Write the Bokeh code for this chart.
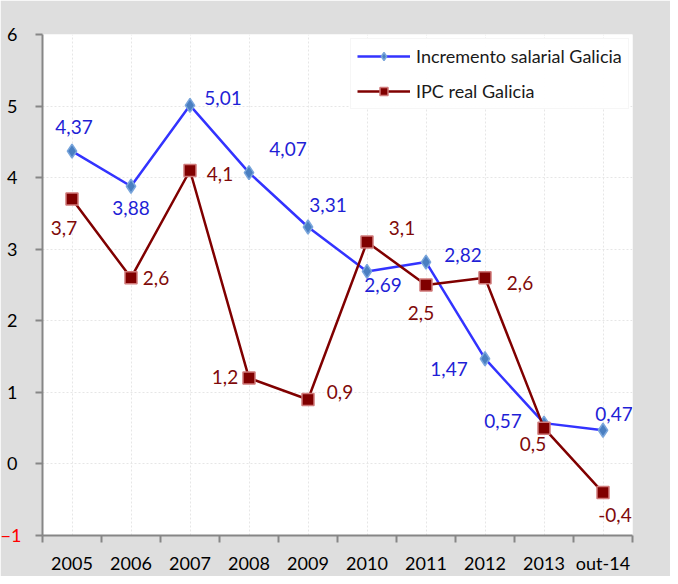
from bokeh.plotting import figure
from bokeh.models import (ColumnDataSource, FixedTicker, Range1d, Legend, LegendItem, LinearAxis)
from bokeh.core.properties import value
from bokeh.embed import file_html
from bokeh.resources import INLINE

categories = ["2005", "2006", "2007", "2008", "2009", "2010", "2011", "2012", "2013", "out-14"]
salarial = [4.37, 3.88, 5.01, 4.07, 3.31, 2.69, 2.82, 1.47, 0.57, 0.47]
ipc = [3.7, 2.6, 4.1, 1.2, 0.9, 3.1, 2.5, 2.6, 0.5, -0.4]
y_ticks = [-1, 0, 1, 2, 3, 4, 5, 6]

# label placement (pixel offsets of label centre relative to the point)
sal_dx = [2, 0, 33, 39, 20, 16, 37, -36, -41, 11]
sal_dy = [-24, 22, -7, -24, -22, 14, -7, 10, -2, -16]
ipc_dx = [-8, 25, 30, -24, 32, 35, -5, 35, -11, 12]
ipc_dy = [29, 0, 4, -1, -8, -14, 28, 5, 16, 22]

FONT = "Lato"
n = len(categories)
xs = [i + 0.5 for i in range(n)]

def fmt(v):
    return str(v).replace(".", ",")

src_sal = ColumnDataSource(dict(x=xs, y=salarial, lab=[fmt(v) for v in salarial], dx=sal_dx, dy=sal_dy))
src_ipc = ColumnDataSource(dict(x=xs, y=ipc, lab=[fmt(v) for v in ipc], dx=ipc_dx, dy=ipc_dy))

W, H = 670, 576
BL, BR, BT, BB = 42, 38, 34, 41
p = figure(width=W, height=H, output_backend="svg", toolbar_location=None,
           x_range=Range1d(0, n), y_range=Range1d(-1, 6),
           min_border_left=BL, min_border_right=BR, min_border_top=BT, min_border_bottom=BB)
p.background_fill_color = "white"
p.border_fill_color = "#dedede"
p.outline_line_color = None

# axes
xa = p.xaxis[0]
xa.ticker = FixedTicker(ticks=xs, minor_ticks=list(range(n + 1)))
xa.major_label_overrides = {x: c for x, c in zip(xs, categories)}
xa.major_tick_out = 0
xa.major_tick_in = 0
xa.minor_tick_out = 7
xa.minor_tick_in = 0
xa.minor_tick_line_color = "#868686"
xa.minor_tick_line_width = 2
xa.axis_line_color = "#868686"
xa.axis_line_width = 2
xa.major_label_standoff = 9
xa.major_label_text_font = FONT
xa.major_label_text_font_style = "normal"
xa.major_label_text_font_size = "18px"
xa.major_label_text_color = "black"

ya = p.yaxis[0]
ya.ticker = FixedTicker(ticks=y_ticks)
ya.major_label_overrides = {y_ticks[0]: ""}
ya.major_tick_out = 7
ya.major_tick_in = 0
ya.minor_tick_out = 0
ya.minor_tick_in = 0
ya.major_tick_line_color = "#868686"
ya.major_tick_line_width = 2
ya.axis_line_color = "#868686"
ya.axis_line_width = 2
ya.major_label_standoff = 18
ya.major_label_text_font = FONT
ya.major_label_text_font_style = "normal"
ya.major_label_text_font_size = "18px"
ya.major_label_text_color = "black"

# red label for the lowest tick: an extra axis whose label is pulled across to the left side
frame_w = W - BL - BR
ya2 = LinearAxis(ticker=FixedTicker(ticks=[y_ticks[0]]), axis_line_color=None,
                 major_tick_out=0, major_tick_in=0, minor_tick_out=0, minor_tick_in=0,
                 major_label_standoff=-(frame_w + BL), major_label_text_color="red",
                 major_label_text_font=FONT, major_label_text_font_size="18px")
p.add_layout(ya2, "right")

p.xgrid.grid_line_color = "#e6e6e6"
p.xgrid.grid_line_dash = "2 2"
p.ygrid.grid_line_color = "#e6e6e6"
p.ygrid.grid_line_dash = "2 2"

# series
l1 = p.line("x", "y", source=src_sal, line_color="#3333ff", line_width=2.5)
m1 = p.scatter("x", "y", source=src_sal, marker="diamond", size=14, fill_color="#4a7fc1",
               line_color="#7aa6dc", line_width=1.5)
l2 = p.line("x", "y", source=src_ipc, line_color="#800000", line_width=2.5)
m2 = p.scatter("x", "y", source=src_ipc, marker="square", size=12, fill_color="#800000",
               line_color="#d07a7a", line_width=1.5)

p.text("x", "y", text="lab", source=src_sal, x_offset="dx", y_offset="dy", text_align="center",
       text_baseline="middle", text_color="#1f1fd6", text_font_size="19px", text_font=value(FONT))
p.text("x", "y", text="lab", source=src_ipc, x_offset="dx", y_offset="dy", text_align="center",
       text_baseline="middle", text_color="#7f0a0a", text_font_size="19px", text_font=value(FONT))

legend = Legend(items=[LegendItem(label="Incremento salarial Galicia", renderers=[l1, m1]),
                       LegendItem(label="IPC real Galicia", renderers=[l2, m2])],
                location=(308, 426), padding=6, spacing=13,
                glyph_width=53, glyph_height=20, label_standoff=6,
                label_text_font=FONT, label_text_font_size="18px", label_text_color="#1a1a1a",
                border_line_color="#eeeeee", background_fill_color="white")
p.add_layout(legend)

open("out.html", "w").write(file_html(p, INLINE))
